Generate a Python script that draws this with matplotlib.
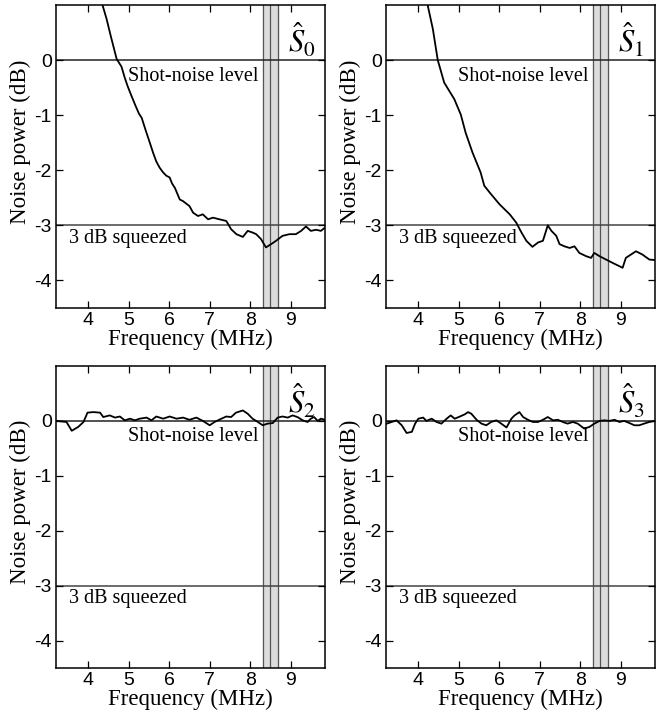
import numpy as np
import matplotlib.pyplot as plt

# Datos (frecuencia en MHz, ruido en dB)
freq_s0 = [4.35, 4.45, 4.55, 4.63, 4.70, 4.76, 4.82, 4.90, 4.97, 5.05, 5.15, 5.25,
           5.32, 5.42, 5.52, 5.60, 5.68, 5.76, 5.85, 5.93, 6.01, 6.07, 6.14, 6.26,
           6.34, 6.50, 6.59, 6.71, 6.83, 6.96, 7.08, 7.24, 7.41, 7.53, 7.66, 7.82,
           7.94, 8.06, 8.15, 8.27, 8.39, 8.52, 8.64, 8.80, 8.97, 9.13, 9.26, 9.38,
           9.50, 9.63, 9.75, 9.85]
noise_s0 = [1.00, 0.75, 0.45, 0.22, 0.02, -0.05, -0.12, -0.32, -0.47, -0.62, -0.80, -0.97,
            -1.05, -1.28, -1.50, -1.68, -1.84, -1.95, -2.04, -2.10, -2.13, -2.24, -2.32, -2.53,
            -2.56, -2.65, -2.77, -2.83, -2.80, -2.89, -2.86, -2.89, -2.92, -3.07, -3.16, -3.21,
            -3.10, -3.13, -3.16, -3.25, -3.40, -3.34, -3.28, -3.19, -3.16, -3.16, -3.10, -3.02,
            -3.10, -3.08, -3.10, -3.04]

freq_s1 = [4.23, 4.36, 4.48, 4.64, 4.89, 5.05, 5.17, 5.34, 5.54, 5.63, 5.77, 6.01,
           6.26, 6.42, 6.55, 6.67, 6.82, 6.96, 7.08, 7.20, 7.29, 7.41, 7.49, 7.61,
           7.74, 7.86, 7.98, 8.15, 8.27, 8.35, 8.48, 8.64, 8.80, 9.05, 9.13, 9.38,
           9.54, 9.71, 9.85]
noise_s1 = [1.00, 0.56, 0.00, -0.41, -0.71, -0.99, -1.32, -1.68, -2.04, -2.28, -2.41, -2.62,
            -2.80, -2.95, -3.13, -3.28, -3.39, -3.31, -3.28, -3.00, -3.10, -3.19, -3.34, -3.38,
            -3.41, -3.38, -3.50, -3.56, -3.59, -3.50, -3.56, -3.62, -3.68, -3.77, -3.59, -3.47,
            -3.53, -3.62, -3.63]

freq_s2 = [3.22, 3.46, 3.59, 3.75, 3.88, 3.98, 4.12, 4.29, 4.37, 4.53, 4.66, 4.78,
           4.90, 5.03, 5.15, 5.27, 5.44, 5.56, 5.68, 5.85, 6.01, 6.18, 6.34, 6.50,
           6.67, 6.83, 7.00, 7.12, 7.29, 7.41, 7.53, 7.65, 7.82, 7.94, 8.06, 8.19,
           8.31, 8.43, 8.56, 8.68, 8.80, 8.93, 9.05, 9.17, 9.30, 9.42, 9.50, 9.58,
           9.67, 9.75, 9.85]
noise_s2 = [0.00, -0.02, -0.18, -0.11, -0.02, 0.15, 0.16, 0.15, 0.07, 0.10, 0.06, 0.08,
            0.01, 0.04, 0.01, 0.04, 0.06, 0.01, 0.08, 0.04, 0.08, 0.04, 0.06, 0.02,
            0.06, 0.00, -0.08, -0.02, 0.04, 0.08, 0.07, 0.15, 0.19, 0.13, 0.04, -0.02,
            -0.08, -0.05, -0.04, 0.06, 0.08, 0.06, 0.10, 0.07, 0.01, -0.02, 0.04, 0.07,
            0.00, 0.04, 0.02]

freq_s3 = [3.22, 3.34, 3.46, 3.59, 3.71, 3.84, 3.92, 4.00, 4.12, 4.20, 4.33, 4.45,
           4.57, 4.70, 4.80, 4.90, 5.03, 5.15, 5.23, 5.31, 5.44, 5.56, 5.68, 5.80,
           5.93, 6.05, 6.18, 6.30, 6.38, 6.50, 6.59, 6.71, 6.83, 6.96, 7.08, 7.20,
           7.33, 7.45, 7.57, 7.69, 7.82, 7.94, 8.10, 8.23, 8.35, 8.48, 8.60, 8.72,
           8.85, 8.97, 9.09, 9.22, 9.34, 9.46, 9.58, 9.71, 9.85]
noise_s3 = [-0.05, -0.02, 0.01, -0.08, -0.22, -0.20, -0.05, 0.04, 0.06, 0.00, 0.04, -0.02,
            -0.05, 0.04, 0.10, 0.04, 0.08, 0.12, 0.16, 0.13, 0.02, -0.05, -0.08, -0.02,
            0.01, -0.05, -0.12, 0.04, 0.10, 0.16, 0.07, 0.02, -0.02, -0.02, 0.02, 0.07,
            0.01, 0.02, -0.02, -0.05, -0.02, -0.05, -0.14, -0.11, -0.05, 0.00, 0.01, 0.00,
            0.02, -0.02, 0.00, -0.04, -0.08, -0.08, -0.05, -0.02, 0.00]

etiquetas = [r'$\hat{S}_{\mathit{0}}$', r'$\hat{S}_{\mathit{1}}$',
             r'$\hat{S}_{\mathit{2}}$', r'$\hat{S}_{\mathit{3}}$']
x_ticks = [4, 5, 6, 7, 8, 9]
y_ticks = [-4, -3, -2, -1, 0]
banda = (8.31, 8.5, 8.69)

plt.rcParams['mathtext.fontset'] = 'stix'

fig = plt.figure(figsize=(6.6, 7.12), dpi=100)
posiciones = [
    [0.0848, 0.5674, 0.4076, 0.4256],
    [0.5848, 0.5674, 0.4076, 0.4256],
    [0.0848, 0.0618, 0.4076, 0.4242],
    [0.5848, 0.0618, 0.4076, 0.4242],
]
datos = [(freq_s0, noise_s0), (freq_s1, noise_s1), (freq_s2, noise_s2), (freq_s3, noise_s3)]

serif = 'Liberation Serif'
sans = 'Liberation Sans'

for pos, (f, n), etiqueta in zip(posiciones, datos, etiquetas):
    ax = fig.add_axes(pos)
    # Banda sombreada con tres lineas verticales
    ax.axvspan(banda[0], banda[2], color='#dcdcdc', zorder=0)
    for xv in banda:
        ax.axvline(xv, color='#555555', lw=0.9, zorder=1)
    ax.axhline(0, color='#222222', lw=1.1, zorder=1)
    ax.axhline(-3, color='#444444', lw=1.1, zorder=1)
    ax.plot(f, n, color='black', lw=1.3, zorder=2)

    ax.set_xlim(3.2, 9.85)
    ax.set_ylim(-4.5, 1.0)
    ax.set_xticks(x_ticks)
    ax.set_yticks(y_ticks)
    ax.set_yticklabels([str(v) for v in y_ticks])
    ax.tick_params(direction='in', top=True, right=True, length=5, width=0.9,
                   labelsize=14, pad=3)
    for lab in ax.get_xticklabels() + ax.get_yticklabels():
        lab.set_family(sans)
    for sp in ax.spines.values():
        sp.set_linewidth(1.1)

    ax.set_xlabel('Frequency (MHz)', family=serif, fontsize=16.5, labelpad=0)
    ax.set_ylabel('Noise power (dB)', family=serif, fontsize=16.5)
    ax.yaxis.set_label_coords(-0.093, 0.55)

    ax.text(4.99, -0.29, 'Shot-noise level', family=serif, fontsize=14.5,
            ha='left', va='center')
    ax.text(3.51, -3.24, '3 dB squeezed', family=serif, fontsize=14.5,
            ha='left', va='center')
    ax.text(9.27, 0.36, etiqueta, fontsize=22, ha='center', va='center')

fig.savefig('out.png', dpi=100)
